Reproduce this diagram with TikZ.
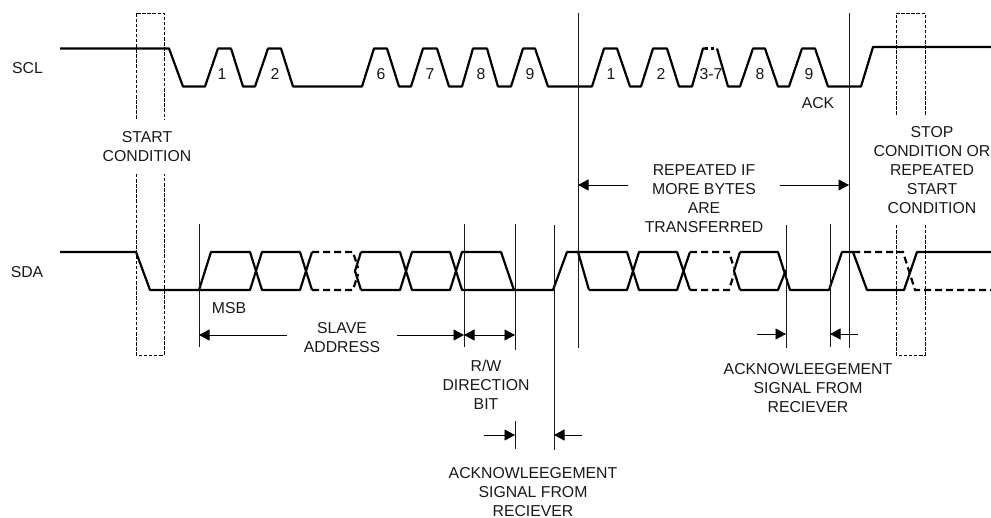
\documentclass[tikz,border=0pt]{standalone}
\usepackage{fontspec}
\setmainfont{Liberation Sans}
\usetikzlibrary{arrows.meta}
\tikzset{
	sigline/.style={line width=2.2pt, line join=round},
	sigdash/.style={line width=2.2pt, dash pattern=on 7pt off 4pt},
	guide/.style={line width=0.9pt, color=black!90},
	condbox/.style={line width=0.9pt, dash pattern=on 3.5pt off 1.6pt},
	dimarrow/.style={line width=0.9pt, -{Triangle[length=10.5pt,width=11pt]}},
	dimboth/.style={line width=0.9pt, {Triangle[length=10.5pt,width=11pt]}-{Triangle[length=10.5pt,width=11pt]}},
	lbl/.style={font=\fontsize{15.8}{19}\selectfont, align=center, inner sep=0pt, color=black!90}
}
\begin{document}
\begin{tikzpicture}[x=1pt, y=-1pt]
		\useasboundingbox (0, 0) rectangle (991, 518);
		
		%%%%% SCL %%%%%
		\draw[sigline] (60, 48.5) -- (169, 48.5) -- (183, 86.5) -- (205, 86.5) -- (218, 48.5) -- (231, 48.5) -- (243, 86.5) -- (255, 86.5) -- (268, 48.5) -- (281, 48.5) -- (293, 86.5) -- (362, 86.5) -- (374, 48.5) -- (387, 48.5) -- (399, 86.5) -- (411, 86.5) -- (423, 48.5) -- (437, 48.5) -- (449, 86.5) -- (462, 86.5) -- (473, 48.5) -- (487, 48.5) -- (498, 86.5) -- (511, 86.5) -- (523, 48.5) -- (535, 48.5) -- (548, 86.5) -- (592, 86.5) -- (604, 48.5) -- (617, 48.5) -- (630, 86.5) -- (641, 86.5) -- (653, 48.5) -- (667, 48.5) -- (679, 86.5) -- (692, 86.5) -- (703, 48.5) -- (705, 48.5);
		\draw[sigline, dash pattern=on 3pt off 3pt] (705, 48.5) -- (717, 48.5);
		\draw[sigline] (717, 48.5) -- (728, 86.5) -- (740, 86.5) -- (753, 48.5) -- (765, 48.5) -- (778, 86.5) -- (789, 86.5) -- (802, 48.5) -- (815, 48.5) -- (828, 86.5) -- (861, 86.5) -- (873, 47) -- (991, 47);
		
		%%%%% SDA %%%%%
		\draw[sigline] (60, 252) -- (136, 252) -- (150, 290) -- (199, 290);
		% slave address byte
		\draw[sigline] (199, 290) -- (211, 252) -- (250, 252) -- (262, 290) -- (300, 290) -- (312, 252);
		\draw[sigline] (199, 290) -- (250, 290) -- (262, 252) -- (300, 252) -- (312, 290);
		\draw[sigdash] (312, 252) -- (353, 252) -- (358, 268);
		\draw[sigdash] (312, 290) -- (353, 290) -- (358, 274);
		\draw[sigline] (361, 252) -- (355, 271) -- (361, 290);
		\draw[sigline] (361, 252) -- (400, 252) -- (412, 290) -- (450, 290) -- (462, 252) -- (501, 252) -- (514, 290);
		\draw[sigline] (361, 290) -- (400, 290) -- (412, 252) -- (450, 252) -- (462, 290) -- (553, 290) -- (567, 252) -- (578, 252) -- (589, 290);
		% data byte
		\draw[sigline] (578, 252) -- (627, 252) -- (639, 290) -- (677, 290) -- (690, 252);
		\draw[sigline] (589, 290) -- (627, 290) -- (639, 252) -- (677, 252) -- (690, 290);
		\draw[sigdash] (690, 252) -- (729, 252) -- (734, 268);
		\draw[sigdash] (690, 290) -- (729, 290) -- (734, 274);
		\draw[sigline] (740, 252) -- (734, 271) -- (740, 290);
		\draw[sigline] (740, 252) -- (778, 252) -- (790, 290) -- (829, 290) -- (842, 252) -- (853, 252) -- (867, 290) -- (904, 290) -- (917, 252) -- (991, 252);
		\draw[sigline] (740, 290) -- (778, 290) -- (786, 270);
		\draw[sigdash] (853, 252) -- (903, 252) -- (915, 290) -- (991, 290);
		
		%%%%% START / STOP BOXES %%%%%
		\draw[condbox] (136, 119) -- (136, 13) -- (164, 13) -- (164, 119);
		\draw[condbox] (136, 174) -- (136, 355) -- (164, 355) -- (164, 174);
		\draw[condbox] (896, 115) -- (896, 13) -- (925, 13) -- (925, 115);
		\draw[condbox] (896, 225) -- (896, 355) -- (925, 355) -- (925, 225);
		
		%%%%% GUIDES %%%%%
		\draw[guide] (578, 13) -- (578, 348);
		\draw[guide] (849, 13) -- (849, 348);
		\draw[guide] (199, 224) -- (199, 347);
		\draw[guide] (464, 224) -- (464, 347);
		\draw[guide] (515, 224) -- (515, 350);
		\draw[guide] (515, 421) -- (515, 449);
		\draw[guide] (554, 225) -- (554, 450);
		\draw[guide] (786, 225) -- (786, 348);
		\draw[guide] (830, 224) -- (830, 347);
		
		%%%%% ARROWS %%%%%
		\draw[dimarrow] (287, 335) -- (199, 335);
		\draw[dimarrow] (397, 335) -- (464, 335);
		\draw[dimboth] (464, 335) -- (515, 335);
		\draw[dimarrow] (628, 185) -- (578, 185);
		\draw[dimarrow] (780, 185) -- (849, 185);
		\draw[dimarrow] (757, 334) -- (786, 334);
		\draw[dimarrow] (858, 334) -- (830, 334);
		\draw[dimarrow] (484, 435) -- (515, 435);
		\draw[dimarrow] (582, 435) -- (554, 435);
		
		%%%%% TEXT %%%%%
		\node[lbl] (sclname) at (27.5, 68) {SCL};
		\node[lbl] (sdaname) at (27, 272) {SDA};
		\node[lbl] (bita) at (222, 74) {1};
		\node[lbl] (bitb) at (275, 74) {2};
		\node[lbl] (bitf) at (381, 74) {6};
		\node[lbl] (bitg) at (430, 74) {7};
		\node[lbl] (bith) at (481, 74) {8};
		\node[lbl] (biti) at (530, 74) {9};
		\node[lbl] (bitk) at (611, 74) {1};
		\node[lbl] (bitl) at (661, 74) {2};
		\node[lbl] (bitm) at (711, 74) {3-7};
		\node[lbl] (bitn) at (760, 74) {8};
		\node[lbl] (bito) at (809, 74) {9};
		\node[lbl] (ack) at (818, 103) {ACK};
		\node[lbl] (start) at (147, 147) {START\\CONDITION};
		\node[lbl] (stop) at (932, 170) {STOP\\CONDITION OR\\REPEATED\\START\\CONDITION};
		\node[lbl] (msb) at (229, 308) {MSB};
		\node[lbl] (slave) at (342, 337.5) {SLAVE\\ADDRESS};
		\node[lbl] (rw) at (486, 385) {R/W\\DIRECTION\\BIT};
		\node[lbl] (ackleft) at (533, 492) {ACKNOWLEEGEMENT\\SIGNAL FROM\\RECIEVER};
		\node[lbl] (ackright) at (808, 388) {ACKNOWLEEGEMENT\\SIGNAL FROM\\RECIEVER};
		\node[lbl] (repeat) at (704, 198.5) {REPEATED IF\\MORE BYTES\\ARE\\TRANSFERRED};
		
		%%%%% END %%%%%
	\end{tikzpicture}
\end{document}
